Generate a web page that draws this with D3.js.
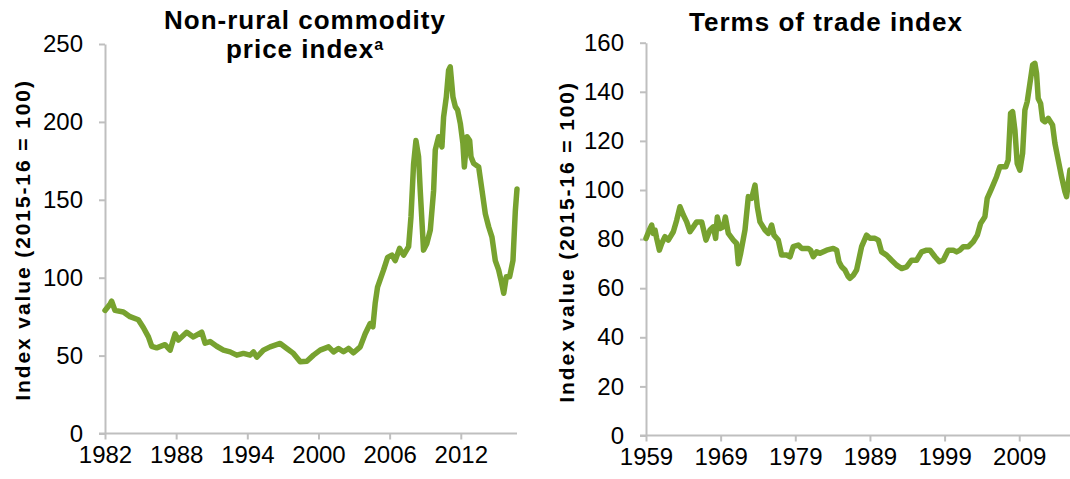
<!DOCTYPE html>
<html>
<head>
<meta charset="utf-8">
<script src="https://cdn.jsdelivr.net/npm/d3@7"></script>
<style>
    body { margin: 0; background: #fff; }
    svg { display: block; font-family: "Liberation Sans", Arial, sans-serif; }
</style>
</head>
<body>
<div id="container"></div>
<script>

// Non-rural commodity price index (decimal year, index value)
const ncpiYears = [1982.0, 1982.42, 1982.56, 1982.84, 1983.55, 1984.11, 1984.81, 1985.23, 1985.66, 1985.94,
    1986.36, 1987.06, 1987.49, 1987.91, 1988.19, 1988.89, 1989.45, 1990.16, 1990.44, 1990.86,
    1991.42, 1991.99, 1992.55, 1993.11, 1993.67, 1994.24, 1994.52, 1994.80, 1995.36, 1995.92,
    1996.77, 1997.33, 1997.89, 1998.46, 1999.02, 1999.58, 2000.14, 2000.85, 2001.27, 2001.69,
    2002.11, 2002.53, 2002.96, 2003.52, 2003.94, 2004.36, 2004.59, 2004.78, 2004.98, 2005.49,
    2005.83, 2006.19, 2006.47, 2006.84, 2007.18, 2007.60, 2007.80, 2008.02, 2008.22, 2008.44,
    2008.58, 2008.86, 2009.14, 2009.43, 2009.71, 2009.85, 2010.13, 2010.41, 2010.55, 2010.78,
    2010.97, 2011.11, 2011.34, 2011.54, 2011.73, 2011.96, 2012.18, 2012.30, 2012.52, 2012.75,
    2012.86, 2013.08, 2013.51, 2013.79, 2014.07, 2014.35, 2014.63, 2014.91, 2015.19, 2015.39,
    2015.62, 2015.84, 2016.12, 2016.40, 2016.60, 2016.74];
const ncpiValues = [79, 83, 85, 79, 78, 75, 73, 68, 62, 56,
    55, 57, 53.5, 64, 60, 65, 62, 65, 58, 59,
    56, 53.5, 52.4, 50.3, 51.4, 50.3, 52.4, 49, 53.5, 55.6,
    57.8, 54.6, 51.4, 46, 46.4, 50.3, 53.5, 55.6, 52.4, 54.6,
    52.5, 54.6, 51.8, 55.6, 64, 70.6, 68.5, 83.5, 94, 105,
    113, 114.5, 111, 118.8, 114.5, 119.9, 139, 173, 188, 177.6,
    156, 117.7, 122, 130.6, 156, 182, 190.5, 184, 203, 216,
    233, 235.4, 216, 209.8, 207.6, 199, 186, 171, 190.5, 188,
    177.6, 173.4, 171, 156, 141, 132.7, 126, 111, 105, 98.5,
    90, 100.6, 100.6, 111, 143, 157];

// Terms of trade index (decimal year, index value)
const totYears = [1959.0, 1959.45, 1959.76, 1959.98, 1960.21, 1960.43, 1960.79, 1961.10, 1961.54, 1961.99,
    1962.66, 1963.11, 1963.55, 1964.00, 1964.45, 1964.89, 1965.34, 1965.79, 1966.46, 1967.04,
    1967.57, 1968.02, 1968.33, 1968.55, 1968.91, 1969.36, 1969.63, 1970.03, 1970.70, 1971.14,
    1971.37, 1971.68, 1972.26, 1972.71, 1973.15, 1973.60, 1973.91, 1974.27, 1974.94, 1975.38,
    1975.83, 1976.14, 1976.72, 1977.17, 1977.84, 1978.29, 1978.73, 1979.40, 1979.85, 1980.74,
    1981.05, 1981.41, 1981.86, 1982.30, 1983.20, 1984.09, 1984.54, 1984.85, 1985.21, 1985.65,
    1986.10, 1986.32, 1986.77, 1987.21, 1987.88, 1988.55, 1989.00, 1989.67, 1990.12, 1990.56,
    1991.23, 1991.90, 1992.57, 1993.24, 1993.91, 1994.58, 1995.25, 1995.92, 1996.59, 1997.04,
    1997.71, 1998.29, 1998.82, 1999.49, 2000.16, 2000.61, 2001.05, 2001.50, 2002.17, 2002.84,
    2003.38, 2003.82, 2004.40, 2004.71, 2005.29, 2005.96, 2006.41, 2007.21, 2007.52, 2007.84,
    2008.11, 2008.42, 2008.73, 2009.09, 2009.45, 2009.76, 2010.07, 2010.43, 2010.79, 2011.10,
    2011.32, 2011.54, 2011.86, 2012.13, 2012.44, 2012.88, 2013.46, 2013.78, 2014.22, 2014.67,
    2015.12, 2015.34, 2015.79];
const totValues = [80.3, 83.7, 85.7, 82.3, 83.7, 80.3, 75.5, 78.2, 81, 79.6,
    83, 87.7, 93.2, 89.8, 87, 83, 85, 87, 87, 79.6,
    83.7, 85, 80.3, 89, 84.3, 85, 89, 82.3, 79.6, 78.2,
    70, 74.2, 83.7, 97.3, 96.6, 102, 93.2, 87, 83.7, 82.3,
    85.7, 81.6, 79.6, 73.5, 73.5, 72.8, 76.9, 77.6, 76.2, 76.2,
    75.5, 72.8, 74.8, 74.2, 75.5, 76.2, 75.5, 70.8, 68.7, 67.4,
    64.7, 64, 65.3, 67.4, 76.9, 81.6, 80.3, 80.3, 79.6, 74.8,
    73.5, 71.4, 69.4, 68, 68.7, 71.4, 71.4, 74.8, 75.5, 75.5,
    72.8, 70.8, 71.4, 75.5, 75.5, 74.8, 75.5, 76.9, 76.9, 78.9,
    81.6, 86.4, 89.1, 96.6, 100.6, 105.4, 109.5, 109.5, 112.2, 131.2,
    131.9, 124.4, 110.8, 108.1, 114.9, 132.6, 136, 143.4, 150.9, 151.6,
    147.5, 137.3, 135.3, 128.5, 127.8, 129.2, 126.5, 119, 112.2, 105.4,
    99.3, 97.3, 108.1];

const ncpiTickYears = [1982, 1988, 1994, 2000, 2006, 2012];
const totTickYears = [1959, 1969, 1979, 1989, 1999, 2009];
const ncpiYTicks = [0, 50, 100, 150, 200, 250];
const totYTicks = [0, 20, 40, 60, 80, 100, 120, 140, 160];

const width = 1070;
const height = 479;
const LINE_COLOR = '#77a22f';
const AXIS_COLOR = '#bfbfbf';
const TICK_FONT = 24;
const Y_TITLE = 'Index value (2015-16 = 100)';

const svg = d3.select('#container')
    .append('svg')
    .attr('width', width)
    .attr('height', height);

const drawPanel = (cfg) => {
    const x = d3.scaleLinear().domain(cfg.xDomain).range(cfg.xRange);
    const y = d3.scaleLinear().domain(cfg.yDomain).range(cfg.yRange);
    const g = svg.append('g');

    // y axis
    const yAxis = g.append('g')
        .attr('transform', `translate(${cfg.xRange[0]},0)`)
        .call(d3.axisLeft(y).tickValues(cfg.yTicks).tickSize(6).tickSizeOuter(0).tickPadding(16));

    // x axis
    const xAxis = g.append('g')
        .attr('transform', `translate(0,${cfg.yRange[0]})`)
        .call(d3.axisBottom(x).tickValues(cfg.xTicks).tickFormat(d3.format('d')).tickSize(6).tickSizeOuter(0).tickPadding(6));

    [yAxis, xAxis].forEach(a => {
        a.select('.domain').attr('stroke', AXIS_COLOR).attr('stroke-width', 2);
        a.selectAll('.tick line').attr('stroke', AXIS_COLOR).attr('stroke-width', 2);
        a.selectAll('.tick text')
            .attr('fill', '#000')
            .style('font-size', TICK_FONT + 'px')
            .style('font-family', '"Liberation Sans", Arial, sans-serif');
    });
    // x axis extends left over the zero tick
    xAxis.select('.domain').attr('d', `M${cfg.xRange[0] - 6},0H${cfg.xRange[1]}`);

    const line = d3.line()
        .x((d, i) => x(cfg.years[i]))
        .y(d => y(d));

    g.append('path')
        .datum(cfg.values)
        .attr('fill', 'none')
        .attr('stroke', LINE_COLOR)
        .attr('stroke-width', 5.5)
        .attr('stroke-linejoin', 'round')
        .attr('stroke-linecap', 'round')
        .attr('d', line);

    // y axis title
    g.append('text')
        .attr('transform', `translate(${cfg.yTitleX},${cfg.yTitleY}) rotate(-90)`)
        .attr('text-anchor', 'middle')
        .style('font-size', '21px')
        .style('font-weight', 'bold')
        .style('letter-spacing', '1.9px')
        .text(Y_TITLE);

    // chart title, one text per line
    cfg.title.forEach((t, i) => {
        const txt = g.append('text')
            .attr('x', cfg.titleX)
            .attr('y', cfg.titleY + i * 29)
            .attr('text-anchor', 'middle')
            .style('font-size', '26px')
            .style('font-weight', 'bold')
            .style('letter-spacing', '1px')
            .text(t);
        if (i === cfg.title.length - 1 && cfg.titleSup) {
            txt.append('tspan')
                .attr('dy', -8)
                .style('font-size', '16px')
                .text(cfg.titleSup);
        }
    });
};

drawPanel({
    years: ncpiYears,
    values: ncpiValues,
    xDomain: [1982, 2016.74],
    xRange: [105, 517],
    yDomain: [0, 250],
    yRange: [433.5, 44],
    xTicks: ncpiTickYears,
    yTicks: ncpiYTicks,
    title: ['Non-rural commodity', 'price index'],
    titleSup: 'a',
    titleX: 305,
    titleY: 29,
    yTitleX: 30,
    yTitleY: 240
});

drawPanel({
    years: totYears,
    values: totValues,
    xDomain: [1959, 2015.8],
    xRange: [646, 1070],
    yDomain: [0, 160],
    yRange: [435.5, 42.7],
    xTicks: totTickYears,
    yTicks: totYTicks,
    title: ['Terms of trade index'],
    titleX: 826,
    titleY: 31,
    yTitleX: 574,
    yTitleY: 242
});

</script>
</body>
</html>
